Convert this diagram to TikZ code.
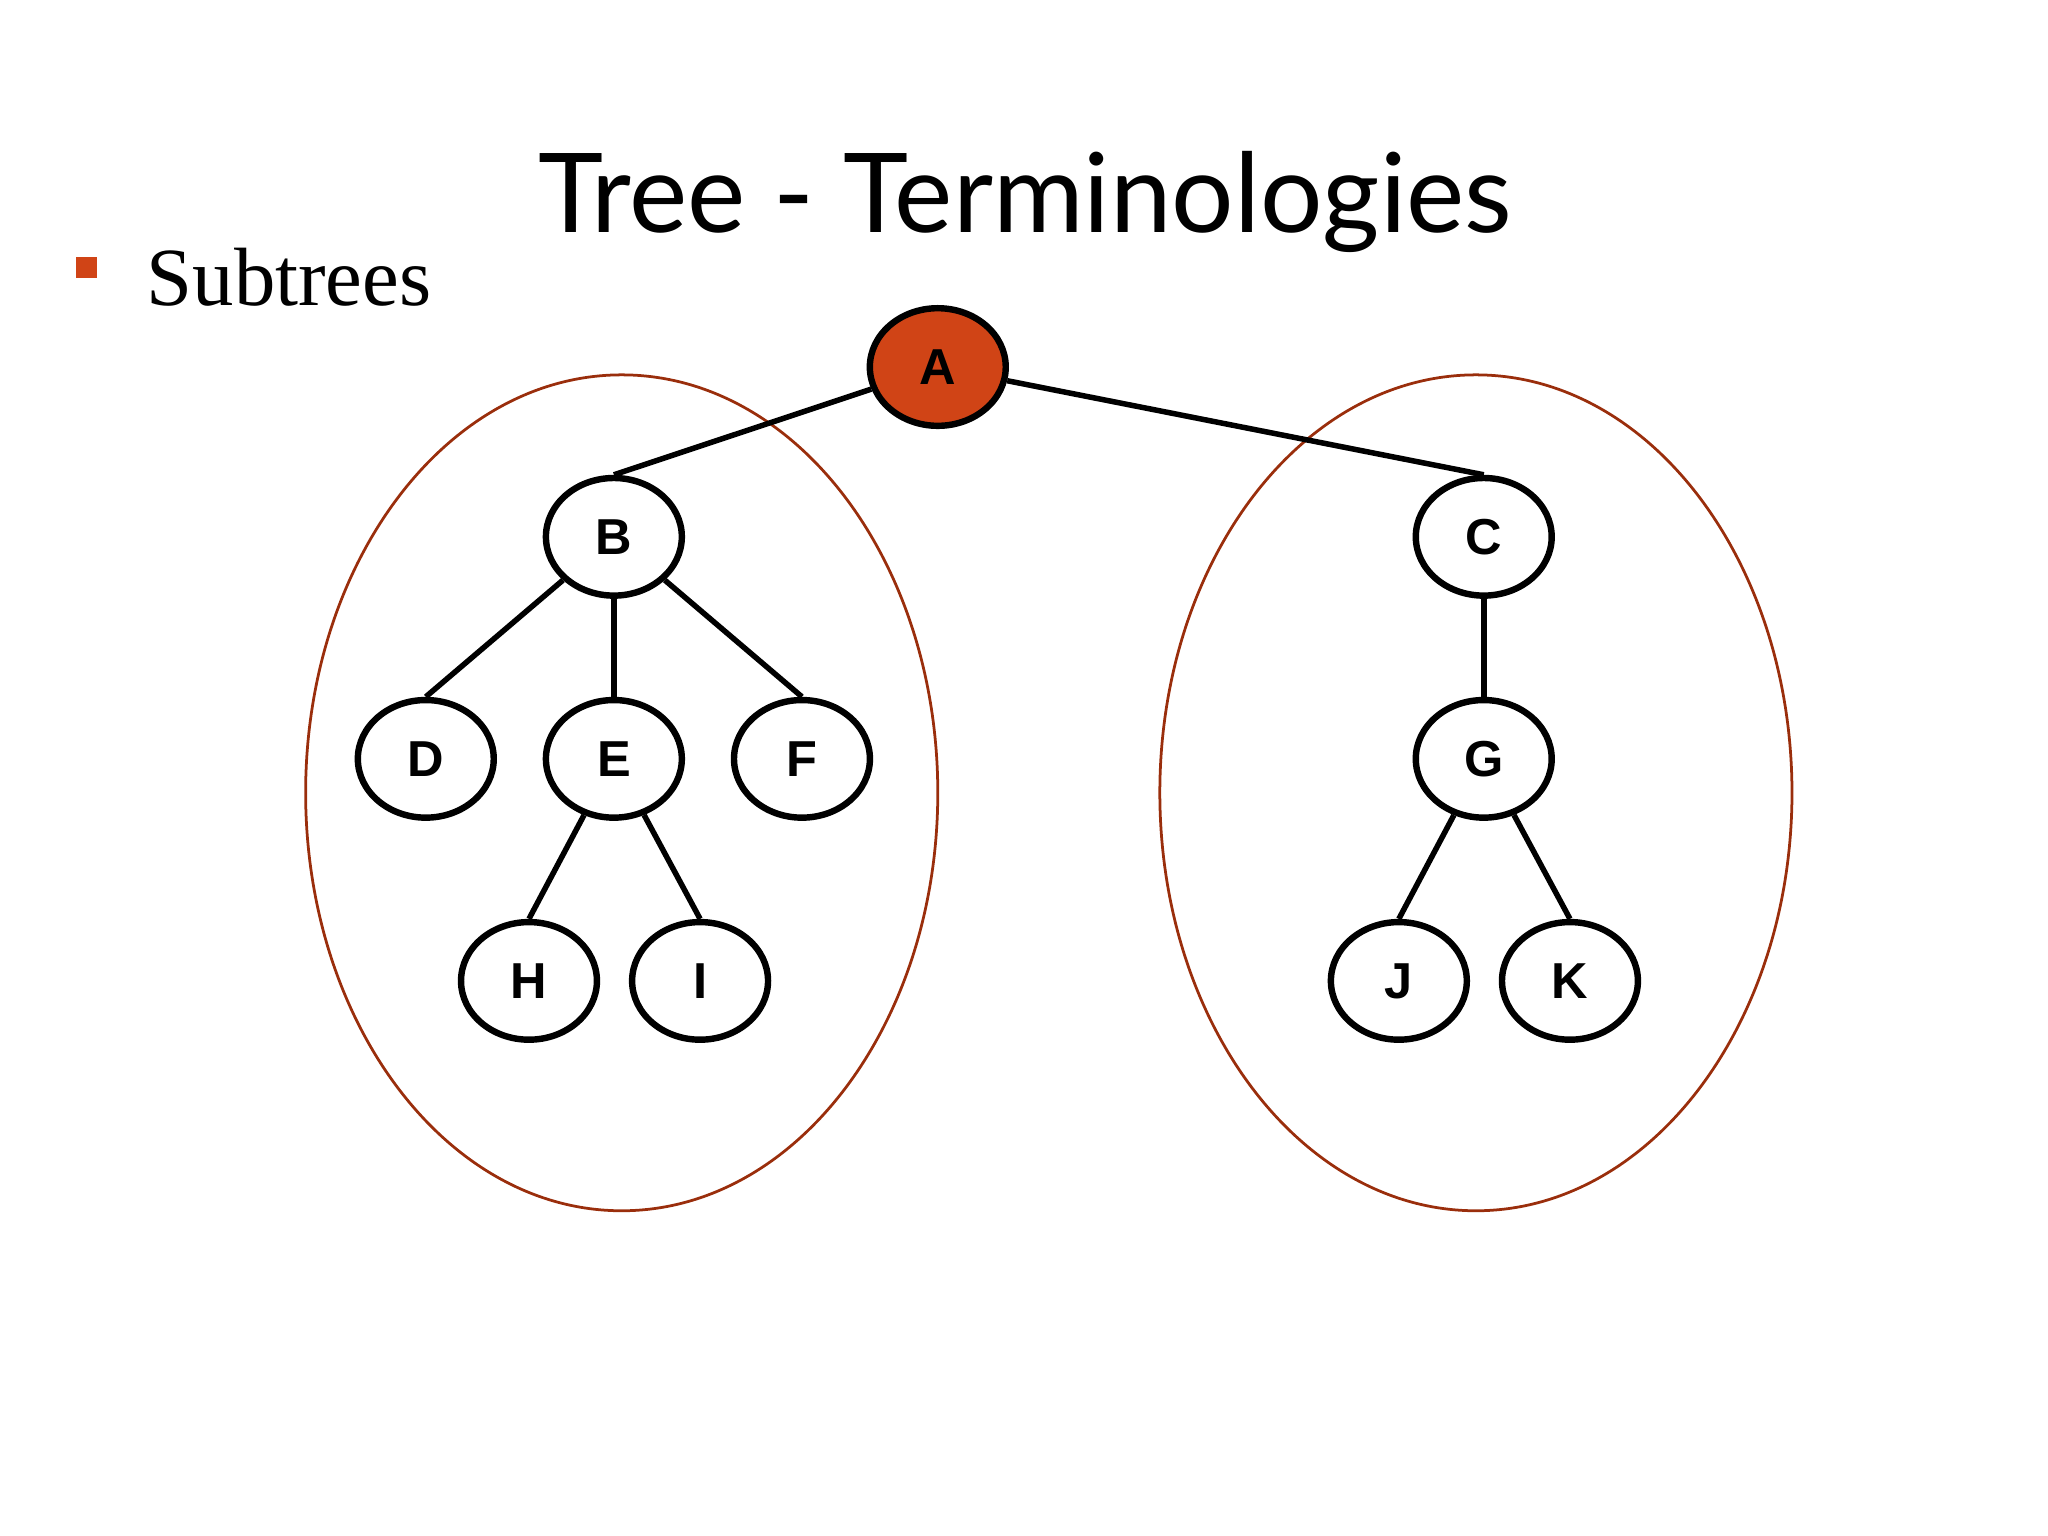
\documentclass[tikz,border=0pt]{standalone}
\usepackage{fontspec}
\setmainfont{Liberation Serif}
\newfontfamily\titlefont{Lato}
\newfontfamily\nodefont{Liberation Sans}
\usetikzlibrary{shapes.geometric}
\definecolor{acc}{HTML}{D04416}
\definecolor{ring}{HTML}{9A2E0C}
\begin{document}
\begin{tikzpicture}[x=0.01cm,y=-0.01cm,
  tn/.style={ellipse,draw=black,line width=1.4pt,fill=white,minimum width=1.04cm,minimum height=0.9cm,inner sep=0pt,font=\nodefont\bfseries\fontsize{11pt}{11pt}\selectfont},
  ed/.style={line width=1.2pt},
  sub/.style={draw=ring,line width=0.6pt}]
\useasboundingbox (0,0) rectangle (1568,1176);
\draw[sub] (476,607) ellipse [x radius=242, y radius=320];
\draw[sub] (1130,607) ellipse [x radius=242, y radius=320];
\node[font=\titlefont\fontsize{24pt}{24pt}\selectfont] (title) at (785,155) {Tree - Terminologies};
\node[fill=acc,minimum size=0.16cm,inner sep=0pt] (bul) at (66,205) {};
\node[anchor=base west,font=\fontsize{18pt}{18pt}\selectfont] (st) at (100,234) {Subtrees};
\node[tn] (B) at (470,411) {B};
\node[tn] (C) at (1136,411) {C};
\node[tn] (D) at (326,581) {D};
\node[tn] (E) at (470,581) {E};
\node[tn] (F) at (614,581) {F};
\node[tn] (G) at (1136,581) {G};
\node[tn] (H) at (405,751) {H};
\node[tn] (I) at (536,751) {I};
\node[tn] (J) at (1071,751) {J};
\node[tn] (K) at (1202,751) {K};
\node[tn,fill=acc] (A) at (718,281) {A};
\draw[ed] (A) -- (B.north);
\draw[ed] (A) -- (C.north);
\draw[ed] (B) -- (D.north);
\draw[ed] (B) -- (E.north);
\draw[ed] (B) -- (F.north);
\draw[ed] (C) -- (G.north);
\draw[ed] (E) -- (H.north);
\draw[ed] (E) -- (I.north);
\draw[ed] (G) -- (J.north);
\draw[ed] (G) -- (K.north);
\end{tikzpicture}
\end{document}
